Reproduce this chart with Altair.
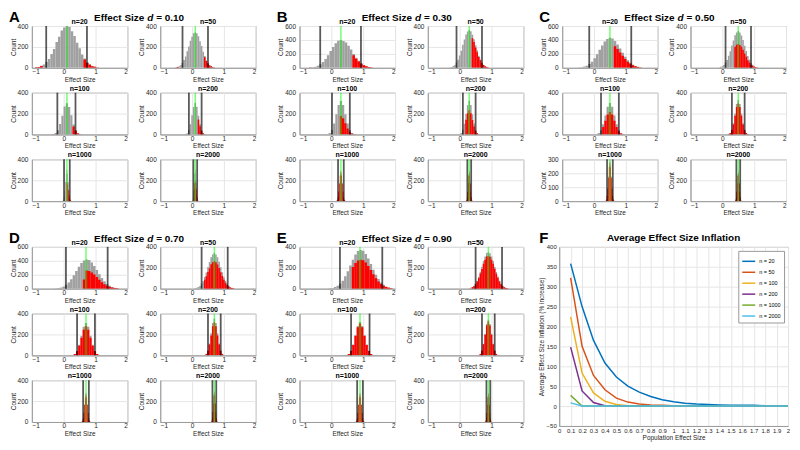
import altair as alt
import pandas as pd

FONT = "Liberation Sans"

NS = [20, 50, 100, 200, 1000, 2000]
BIN_WIDTHS = [0.08, 0.05, 0.07, 0.05, 0.022, 0.016]
X_TICKS = [-1, 0, 1, 2]

# ---------- Panel A (d = 0.10) ----------
A_start = [-0.86, -0.5, -0.32, -0.2, -0.032, 0.004]
A_lo = [-0.55, -0.3, -0.2, -0.1, 0.01, 0.04]
A_hi = [0.73, 0.5, 0.37, 0.3, 0.19, 0.16]
A_ymax = [400, 400, 400, 400, 400, 400]
A_n20_grey = [5, 8, 19, 31, 56, 84, 133, 180, 246, 298, 356, 385, 402, 390, 349, 305, 240, 186, 127, 88, 52, 33, 17, 10, 4]
A_n20_red = [5, 7, 17, 0, 0, 0, 0, 0, 0, 0, 0, 0, 0, 0, 0, 0, 0, 0, 0, 79, 47, 30, 15, 9, 4]
A_n50_grey = [4, 9, 14, 28, 45, 75, 109, 158, 204, 260, 297, 331, 338, 330, 302, 254, 208, 153, 113, 71, 47, 26, 16, 7, 4]
A_n50_red = [4, 8, 0, 0, 0, 0, 0, 0, 0, 0, 0, 0, 0, 0, 0, 0, 0, 0, 102, 64, 42, 23, 14, 6, 4]
A_n100_grey = [3, 14, 40, 99, 180, 268, 298, 263, 185, 96, 42, 12, 3]
A_n100_red = [2, 0, 0, 0, 0, 0, 0, 0, 0, 77, 34, 10, 2]
A_n200_grey = [3, 12, 42, 97, 184, 262, 302, 266, 180, 99, 40, 13, 3]
A_n200_red = [2, 0, 0, 0, 0, 0, 0, 0, 144, 79, 32, 10, 2]
A_n1000_grey = [3, 13, 41, 98, 182, 265, 300, 265, 182, 98, 41, 13, 3]
A_n1000_red = [0, 0, 0, 0, 0, 0, 180, 159, 109, 59, 25, 8, 2]
A_n2000_grey = [3, 12, 42, 97, 183, 264, 301, 266, 181, 99, 40, 13, 3]
A_n2000_red = [0, 0, 0, 0, 118, 172, 196, 173, 118, 64, 26, 8, 2]

# ---------- Panel B (d = 0.30) ----------
B_start = [-0.66, -0.3, -0.12, 0.0, 0.168, 0.204]
B_lo = [-0.35, -0.1, 0.02, 0.1, 0.21, 0.24]
B_hi = [0.93, 0.7, 0.58, 0.5, 0.39, 0.36]
B_ymax = [600, 400, 400, 400, 400, 400]
B_n20_grey = [4, 7, 15, 28, 50, 82, 128, 182, 243, 300, 352, 390, 400, 385, 362, 318, 262, 200, 145, 100, 66, 41, 24, 13, 7]
B_n20_red = [4, 0, 0, 0, 0, 0, 0, 0, 0, 0, 0, 0, 0, 0, 0, 0, 0, 180, 130, 90, 59, 37, 22, 12, 6]
B_n50_grey = [4, 8, 17, 28, 50, 77, 118, 163, 221, 270, 320, 347, 362, 350, 316, 274, 217, 167, 115, 80, 48, 30, 15, 9, 4]
B_n50_red = [0, 0, 0, 0, 0, 0, 0, 0, 0, 0, 0, 0, 0, 0, 284, 247, 195, 150, 104, 72, 43, 27, 14, 8, 4]
B_n100_grey = [4, 14, 43, 104, 194, 282, 320, 282, 194, 104, 43, 14, 4]
B_n100_red = [0, 0, 0, 0, 0, 0, 176, 155, 107, 57, 24, 8, 2]
B_n200_grey = [4, 14, 44, 103, 195, 280, 322, 283, 193, 105, 42, 15, 4]
B_n200_red = [0, 0, 0, 0, 140, 202, 232, 204, 139, 76, 30, 11, 3]
B_n1000_grey = [3, 13, 39, 94, 176, 256, 290, 256, 176, 94, 39, 13, 3]
B_n1000_red = [3, 12, 37, 89, 167, 243, 276, 243, 167, 89, 37, 12, 3]
B_n2000_grey = [3, 12, 40, 93, 177, 255, 291, 257, 175, 95, 38, 13, 3]
B_n2000_red = [3, 11, 38, 88, 168, 242, 276, 244, 166, 90, 36, 12, 3]

# ---------- Panel C (d = 0.50) ----------
C_start = [-0.46, -0.1, 0.08, 0.2, 0.368, 0.404]
C_lo = [-0.15, 0.1, 0.22, 0.3, 0.41, 0.44]
C_hi = [1.17, 0.9, 0.78, 0.7, 0.59, 0.56]
C_ymax = [600, 400, 400, 400, 300, 400]
C_n20_grey = [4, 8, 17, 31, 55, 88, 136, 193, 258, 322, 378, 415, 430, 420, 385, 336, 276, 215, 158, 110, 72, 45, 27, 15, 8]
C_n20_red = [0, 0, 0, 0, 0, 0, 0, 0, 0, 0, 0, 0, 0, 0, 308, 269, 221, 172, 126, 88, 58, 36, 22, 12, 6]
C_n50_grey = [4, 9, 15, 27, 48, 75, 116, 158, 214, 262, 311, 338, 352, 337, 310, 266, 210, 162, 112, 77, 46, 29, 14, 8, 4]
C_n50_red = [0, 0, 0, 0, 0, 0, 0, 0, 0, 0, 202, 220, 229, 219, 202, 173, 137, 105, 73, 50, 30, 19, 9, 5, 3]
C_n100_grey = [3, 13, 41, 98, 182, 265, 300, 265, 182, 98, 41, 13, 3]
C_n100_red = [0, 0, 0, 71, 131, 191, 216, 191, 131, 71, 30, 9, 2]
C_n200_grey = [4, 15, 45, 107, 200, 291, 330, 291, 200, 107, 45, 15, 4]
C_n200_red = [4, 14, 41, 96, 180, 262, 297, 262, 180, 96, 41, 14, 4]
C_n1000_grey = [3, 13, 39, 94, 176, 256, 290, 256, 176, 94, 39, 13, 3]
C_n1000_red = [3, 12, 37, 89, 167, 243, 276, 243, 167, 89, 37, 12, 3]
C_n2000_grey = [3, 13, 39, 95, 175, 257, 292, 255, 177, 93, 40, 12, 3]
C_n2000_red = [3, 12, 37, 90, 166, 244, 270, 242, 168, 88, 38, 11, 3]

# ---------- Panel D (d = 0.70) ----------
D_start = [-0.24, 0.1, 0.28, 0.4, 0.568, 0.604]
D_lo = [0.07, 0.3, 0.42, 0.5, 0.61, 0.64]
D_hi = [1.38, 1.12, 0.98, 0.9, 0.79, 0.76]
D_ymax = [600, 400, 400, 400, 400, 400]
D_n20_grey = [4, 9, 17, 32, 56, 89, 136, 192, 255, 316, 368, 405, 420, 410, 376, 327, 268, 208, 152, 105, 68, 42, 25, 14, 8]
D_n20_red = [0, 0, 0, 0, 0, 0, 0, 0, 0, 0, 0, 130, 260, 254, 233, 203, 166, 129, 94, 65, 42, 26, 16, 9, 5]
D_n50_grey = [4, 8, 16, 26, 47, 72, 112, 155, 208, 255, 302, 328, 342, 327, 301, 258, 205, 157, 110, 74, 45, 28, 14, 8, 4]
D_n50_red = [0, 0, 0, 0, 0, 0, 86, 119, 160, 196, 233, 253, 263, 252, 232, 199, 158, 121, 85, 57, 35, 22, 11, 6, 3]
D_n100_grey = [3, 14, 42, 101, 188, 273, 310, 273, 188, 101, 42, 14, 3]
D_n100_red = [0, 13, 38, 91, 169, 246, 279, 246, 169, 91, 38, 13, 3]
D_n200_grey = [4, 15, 47, 114, 212, 309, 350, 309, 212, 114, 47, 15, 4]
D_n200_red = [4, 14, 42, 103, 191, 278, 315, 278, 191, 103, 42, 14, 4]
D_n1000_grey = [3, 12, 38, 91, 170, 247, 280, 247, 170, 91, 38, 12, 3]
D_n1000_red = [3, 11, 36, 86, 162, 235, 266, 235, 162, 86, 36, 11, 3]
D_n2000_grey = [3, 13, 41, 98, 182, 265, 300, 265, 182, 98, 41, 13, 3]
D_n2000_red = [3, 12, 39, 93, 173, 252, 285, 252, 173, 93, 39, 12, 3]

# ---------- Panel E (d = 0.90) ----------
E_start = [-0.04, 0.3, 0.48, 0.6, 0.768, 0.804]
E_lo = [0.27, 0.5, 0.62, 0.7, 0.81, 0.84]
E_hi = [1.6, 1.33, 1.2, 1.1, 0.99, 0.96]
E_ymax = [400, 400, 400, 400, 400, 400]
E_n20_grey = [3, 7, 15, 28, 48, 77, 118, 167, 223, 278, 326, 360, 370, 362, 333, 289, 237, 182, 133, 92, 60, 37, 22, 12, 7]
E_n20_red = [0, 0, 0, 0, 0, 0, 0, 0, 0, 208, 245, 270, 278, 272, 250, 217, 178, 137, 100, 69, 45, 28, 16, 9, 5]
E_n50_grey = [4, 8, 16, 27, 48, 77, 113, 161, 210, 265, 308, 341, 349, 340, 307, 266, 211, 159, 116, 75, 48, 27, 16, 8, 4]
E_n50_red = [0, 0, 14, 24, 43, 69, 102, 145, 189, 239, 277, 307, 314, 306, 276, 239, 190, 143, 104, 68, 43, 24, 14, 7, 4]
E_n100_grey = [4, 14, 43, 104, 194, 282, 320, 282, 194, 104, 43, 14, 4]
E_n100_red = [4, 13, 41, 99, 184, 268, 304, 268, 184, 99, 41, 13, 4]
E_n200_grey = [4, 15, 46, 111, 206, 300, 340, 300, 206, 111, 46, 15, 4]
E_n200_red = [4, 14, 44, 105, 196, 285, 323, 285, 196, 105, 44, 14, 4]
E_n1000_grey = [3, 12, 38, 91, 170, 247, 280, 247, 170, 91, 38, 12, 3]
E_n1000_red = [3, 11, 36, 86, 162, 235, 266, 235, 162, 86, 36, 11, 3]
E_n2000_grey = [3, 12, 39, 92, 171, 246, 281, 248, 169, 90, 37, 12, 3]
E_n2000_red = [3, 11, 37, 87, 162, 234, 267, 236, 161, 86, 35, 11, 3]

# ---------- Panel F ----------
F_X = [0.1, 0.2, 0.3, 0.4, 0.5, 0.6, 0.7, 0.8, 0.9, 1.0, 1.1, 1.2, 1.3, 1.4, 1.5, 1.6, 1.7, 1.8, 1.9, 2.0]
F_n20 = [358, 250, 165, 108, 73, 50, 35, 24, 16, 11, 7, 5, 4, 3, 2, 2, 2, 1, 1, 1]
F_n50 = [322, 150, 77, 41, 20, 10, 5, 3, 2, 1, 1, 0, 0, 0, 0, 0, 0, 0, 0, 0]
F_n100 = [224, 83, 33, 12, 4, 1, 0, 0, 0, 0, 0, 0, 0, 0, 0, 0, 0, 0, 0, 0]
F_n200 = [148, 38, 9, 1, 0, 0, 0, 0, 0, 0, 0, 0, 0, 0, 0, 0, 0, 0, 0, 0]
F_n1000 = [27, 0, 0, 0, 0, 0, 0, 0, 0, 0, 0, 0, 0, 0, 0, 0, 0, 0, 0, 0]
F_n2000 = [8, 0, 0, 0, 0, 0, 0, 0, 0, 0, 0, 0, 0, 0, 0, 0, 0, 0, 0, 0]
F_LABELS = ["n = 20", "n = 50", "n = 100", "n = 200", "n = 1000", "n = 2000"]
F_COLORS = ["#0072BD", "#D95319", "#EDB120", "#7E2F8E", "#77AC30", "#4DBEEE"]
F_X_TICKS = [0, 0.1, 0.2, 0.3, 0.4, 0.5, 0.6, 0.7, 0.8, 0.9, 1, 1.1, 1.2, 1.3, 1.4, 1.5, 1.6, 1.7, 1.8, 1.9, 2]
F_Y_TICKS = [-50, 0, 50, 100, 150, 200, 250, 300, 350, 400]

PANELS = [
    ("A", 0.10, A_start, A_lo, A_hi, A_ymax,
     [(A_n20_grey, A_n20_red), (A_n50_grey, A_n50_red), (A_n100_grey, A_n100_red),
      (A_n200_grey, A_n200_red), (A_n1000_grey, A_n1000_red), (A_n2000_grey, A_n2000_red)]),
    ("B", 0.30, B_start, B_lo, B_hi, B_ymax,
     [(B_n20_grey, B_n20_red), (B_n50_grey, B_n50_red), (B_n100_grey, B_n100_red),
      (B_n200_grey, B_n200_red), (B_n1000_grey, B_n1000_red), (B_n2000_grey, B_n2000_red)]),
    ("C", 0.50, C_start, C_lo, C_hi, C_ymax,
     [(C_n20_grey, C_n20_red), (C_n50_grey, C_n50_red), (C_n100_grey, C_n100_red),
      (C_n200_grey, C_n200_red), (C_n1000_grey, C_n1000_red), (C_n2000_grey, C_n2000_red)]),
    ("D", 0.70, D_start, D_lo, D_hi, D_ymax,
     [(D_n20_grey, D_n20_red), (D_n50_grey, D_n50_red), (D_n100_grey, D_n100_red),
      (D_n200_grey, D_n200_red), (D_n1000_grey, D_n1000_red), (D_n2000_grey, D_n2000_red)]),
    ("E", 0.90, E_start, E_lo, E_hi, E_ymax,
     [(E_n20_grey, E_n20_red), (E_n50_grey, E_n50_red), (E_n100_grey, E_n100_red),
      (E_n200_grey, E_n200_red), (E_n1000_grey, E_n1000_red), (E_n2000_grey, E_n2000_red)]),
]

W, H = 96, 42
TXT = "#262626"
Y_TICKS = {400: [0, 200, 400], 600: [0, 200, 400, 600], 300: [0, 100, 200, 300]}


def x_axis():
    return alt.Axis(values=X_TICKS, title="Effect Size", labelFontSize=6.5, titleFontSize=6.5,
                    labelPadding=1, titlePadding=1, ticks=False, grid=True)


def y_axis(ymax):
    return alt.Axis(values=Y_TICKS[ymax], title="Count", labelFontSize=6.5, titleFontSize=6.5,
                    labelPadding=4, titlePadding=1, ticks=False, grid=True)


def bar_df(vals, start, w):
    rows = []
    for i, v in enumerate(vals):
        if v > 0:
            c = start + i * w
            rows.append({"x0": c - w / 2, "x1": c + w / 2, "count": v, "base": 0})
    return pd.DataFrame(rows)


def text_layer(txt, x, y, size, align="left", style="normal"):
    return alt.Chart(pd.DataFrame({"t": [txt]})).mark_text(
        align=align, baseline="alphabetic", fontSize=size, fontWeight="bold", fontStyle=style,
        font=FONT, color="#000000"
    ).encode(x=alt.value(x), y=alt.value(y), text="t:N")


def hist_chart(letter, d, idx, grey, red, start, lo, hi, ymax):
    w = BIN_WIDTHS[idx]
    xs = alt.Scale(domain=[-1, 2], nice=False, zero=False)
    ys = alt.Scale(domain=[0, ymax], nice=False)
    layers = []
    for vals, col in ((grey, "#a0a0a0"), (red, "#ff0000")):
        layers.append(alt.Chart(bar_df(vals, start, w)).mark_bar(clip=True, strokeWidth=0, color=col).encode(
            x=alt.X("x0:Q", scale=xs, axis=x_axis()),
            x2="x1:Q",
            y=alt.Y("count:Q", scale=ys, axis=y_axis(ymax)),
            y2="base:Q",
        ))
    layers.append(alt.Chart(pd.DataFrame({"x0": [lo, hi]})).mark_rule(
        color="#000000", opacity=0.65, strokeWidth=1.8).encode(
        x=alt.X("x0:Q", scale=xs, axis=x_axis())))
    layers.append(alt.Chart(pd.DataFrame({"x0": [d]})).mark_rule(
        color="#00ff00", opacity=0.55, strokeWidth=1.5).encode(
        x=alt.X("x0:Q", scale=xs, axis=x_axis())))
    layers.append(text_layer("n=%d" % NS[idx], W / 2, -2, 7, align="center"))
    if idx == 0:
        layers += [
            text_layer("Effect Size", 113, -5, 10, align="right"),
            text_layer("d", 116, -5, 10, style="italic"),
            text_layer("= %.2f" % d, 125, -5, 10),
            text_layer(letter, -23, -4, 15),
        ]
    return alt.layer(*layers).properties(width=W, height=H)


def panel(p):
    letter, d, start, lo, hi, ymax, data = p
    charts = [hist_chart(letter, d, i, data[i][0], data[i][1], start[i], lo[i], hi[i], ymax[i])
              for i in range(6)]
    return alt.concat(*charts, columns=2, spacing=alt.RowColnumber(row=25, column=33), bounds="flush")


pA, pB, pC, pD, pE = [panel(p) for p in PANELS]

# Panel F
f_rows = []
for lab, vals in zip(F_LABELS, [F_n20, F_n50, F_n100, F_n200, F_n1000, F_n2000]):
    for x, v in zip(F_X, vals):
        f_rows.append({"x": x, "v": v, "n": lab})
fdf = pd.DataFrame(f_rows)
f_lines = alt.Chart(fdf).mark_line(strokeWidth=1.5).encode(
    x=alt.X("x:Q", scale=alt.Scale(domain=[0, 2], nice=False),
            axis=alt.Axis(values=F_X_TICKS, format="~g", title="Population Effect Size", labelFontSize=6,
                          titleFontSize=6.5, labelOverlap=False, labelFlush=False, labelAngle=0,
                          ticks=False, labelPadding=2, titlePadding=1, grid=True)),
    y=alt.Y("v:Q", scale=alt.Scale(domain=[-50, 400], nice=False),
            axis=alt.Axis(values=F_Y_TICKS, title="Average Effect Size Inflation (% increase)",
                          labelFontSize=6, titleFontSize=6.5, ticks=False, labelPadding=3, titlePadding=2,
                          grid=True)),
    color=alt.Color("n:N", sort=F_LABELS, scale=alt.Scale(domain=F_LABELS, range=F_COLORS),
                    legend=alt.Legend(title=None, orient="top-right", offset=4, fillColor="white",
                                      strokeColor="#999999", padding=3, labelFontSize=5.5,
                                      symbolType="stroke", symbolSize=170, symbolStrokeWidth=1.5,
                                      rowPadding=0, labelOffset=3)),
    order=alt.Order("x:Q"),
)
pF = alt.layer(
    f_lines,
    text_layer("F", -20, -4, 15),
    text_layer("Average Effect Size Inflation", 115, -6, 10, align="center"),
).properties(width=230, height=180)

row1 = alt.hconcat(alt.hconcat(pA, pB, spacing=19), pC, spacing=14)
row2 = alt.hconcat(alt.hconcat(pD, pE, spacing=19), pF, spacing=13).resolve_scale(
    color="independent").resolve_legend(color="independent")

chart = alt.vconcat(row1, row2, spacing=13).resolve_scale(
    color="independent").resolve_legend(color="independent").properties(
    padding={"left": 0, "top": 0, "right": 0, "bottom": 0}
).configure(font=FONT).configure_view(stroke="#9a9a9a", strokeWidth=1).configure_axis(
    labelColor=TXT, titleColor=TXT, titleFontWeight="normal", domainColor="#9a9a9a",
    gridColor="#e6e6e6", labelFont=FONT, titleFont=FONT
).configure_title(font=FONT)

chart.save("out.html", embed_options={"renderer": "svg", "actions": False})
